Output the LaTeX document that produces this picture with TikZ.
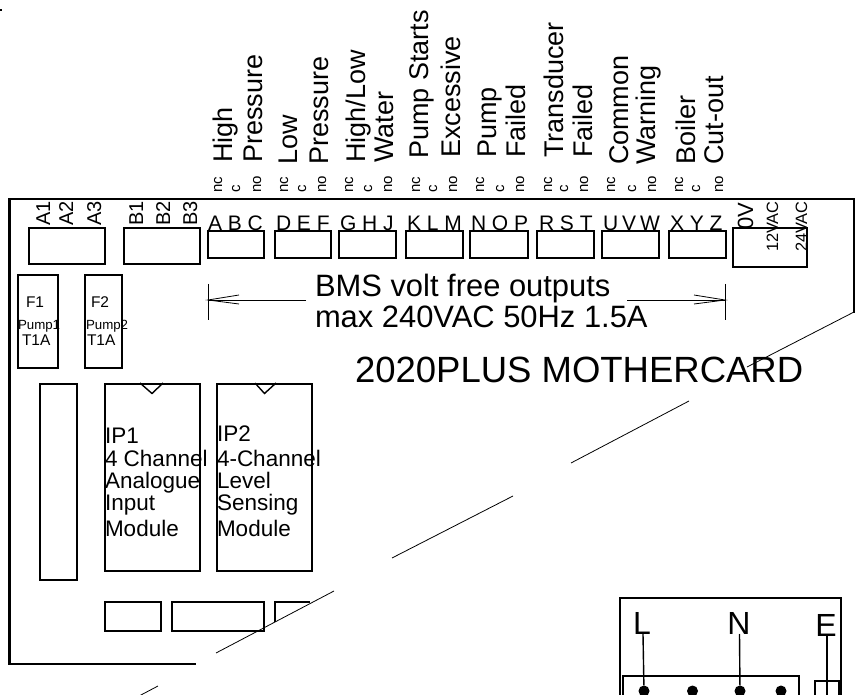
\documentclass[tikz,border=0pt]{standalone}
\usepackage{fontspec}
\setmainfont{Liberation Sans}
\newcommand{\fsz}[1]{\fontsize{#1}{#1}\selectfont}
\newcommand{\pcb}[5]{%
  \pgfmathsetmacro{\cxx}{(#2+#4)/2}\pgfmathsetmacro{\cyy}{(#3+#5)/2}%
  \pgfmathsetmacro{\www}{#4-#2}\pgfmathsetmacro{\hhh}{#5-#3}%
  \node[pcbbox,minimum width=\www pt,minimum height=\hhh pt] (#1) at (\cxx,\cyy) {};}
\tikzset{
  pcbbox/.style={draw=black,line width=2.2pt,rectangle,inner sep=0pt,outer sep=0pt},
  frameline/.style={line width=2.2pt,line cap=rect},
  cutline/.style={line width=0.8pt},
  dimline/.style={line width=0.8pt},
  thinbox/.style={line width=1.4pt},
  txt/.style={inner sep=0pt,outer sep=0pt,anchor=base west,text=black},
  vert/.style={txt,rotate=90},
  big/.style={txt,font=\fsz{36.5}},
  bms/.style={txt,font=\fsz{30.9}},
  lab/.style={vert,font=\fsz{27}},
  tiny/.style={vert,font=\fsz{15}},
  lett/.style={txt,font=\fsz{21}},
  pin/.style={vert,font=\fsz{20}},
  volt/.style={vert,font=\fsz{16.4}},
  mod/.style={txt,font=\fsz{22.5}},
  fuse/.style={txt,font=\fsz{15.5}},
  mains/.style={txt,font=\fsz{32},anchor=base},
  term/.style={circle,fill=black,inner sep=0pt,minimum size=11pt},
}
\begin{document}
\begin{tikzpicture}[x=1pt,y=-1pt]
\useasboundingbox (0,0) rectangle (855,695);
\clip (0,0) rectangle (855,695);
\fill[white] (0,0) rectangle (855,695);
% corner tick
\coordinate (tk1) at (0,10); \coordinate (tk2) at (1.5,10);
\draw[line width=1.5pt] (tk1) -- (tk2);
% frame
\coordinate (f1) at (195,664); \coordinate (f2) at (9.5,664); \coordinate (f3) at (9.5,199);
\coordinate (f4) at (854,199); \coordinate (f5) at (854,312);
\draw[frameline] (f1) -- (f2) -- (f3) -- (f4) -- (f5);
% break lines
\coordinate (c1) at (747,367); \draw[cutline] (f5) -- (c1);
\coordinate (c2) at (689,401); \coordinate (c3) at (571,463); \draw[cutline] (c2) -- (c3);
\coordinate (c4) at (513,496); \coordinate (c5) at (392,558); \draw[cutline] (c4) -- (c5);
\coordinate (c6) at (334,591); \coordinate (c7) at (216,653); \draw[cutline] (c6) -- (c7);
\coordinate (c8) at (158,686); \coordinate (c9) at (140,695.5); \draw[cutline] (c8) -- (c9);
% terminal blocks
\pcb{ba}{29}{228}{105}{264}
\pcb{bb}{124}{228}{200}{264}
\pcb{abc}{208}{231}{264}{258}
\pcb{def}{275}{231}{331}{258}
\pcb{ghj}{339}{231}{396}{258}
\pcb{klm}{406}{231}{463}{258}
\pcb{nop}{470}{231}{528}{258}
\pcb{rst}{537}{231}{594}{258}
\pcb{uvw}{602}{231}{659}{258}
\pcb{xyz}{669}{231}{726}{258}
\pcb{pwr}{733}{228}{807}{267}
% fuses
\pcb{fa}{18}{275}{58}{368}
\pcb{fb}{85}{275}{122}{368}
% modules
\pcb{slot}{40}{384}{77}{580}
\pcb{ipa}{105}{384}{200}{571}
\pcb{ipb}{217}{384}{312}{571}
\coordinate (na1) at (140,383); \coordinate (na2) at (152,393.5); \coordinate (na3) at (163,383);
\draw[thinbox] (na1) -- (na2) -- (na3);
\coordinate (nb1) at (255,383); \coordinate (nb2) at (264.5,393.5); \coordinate (nb3) at (276,383);
\draw[thinbox] (nb1) -- (nb2) -- (nb3);
% bottom connectors
\pcb{ca}{105}{602}{161}{631}
\pcb{cb}{172}{602}{264}{631}
\coordinate (cc1) at (275,622); \coordinate (cc2) at (275,602); \coordinate (cc3) at (310,602);
\draw[frameline,line cap=butt] (cc1) -- (cc2) -- (cc3);
% vertical labels
\node[lab] (t1) at (232,163) {High};
\node[lab] (t2) at (262,163) {Pressure};
\node[lab] (t3) at (297,165) {Low};
\node[lab] (t4) at (328,165) {Pressure};
\node[lab] (t5) at (365,163) {High/Low};
\node[lab] (t6) at (393,163) {Water};
\node[lab] (t7) at (428,159) {Pump Starts};
\node[lab] (t8) at (460,158) {Excessive};
\node[lab] (t9) at (496,158) {Pump};
\node[lab] (t10) at (525,158) {Failed};
\node[lab] (t11) at (563,158) {Transducer};
\node[lab] (t12) at (592,158) {Failed};
\node[lab] (t13) at (628,165) {Common};
\node[lab] (t14) at (655,165) {Warning};
\node[lab] (t15) at (695,165) {Boiler};
\node[lab] (t16) at (723,165) {Cut-out};
% nc c no
\foreach \nm/\xa/\xb/\xc in {a/222/240/261,b/288/306/326,c/353/372/392,d/420/437/457,e/484/504/524,f/552/568/588,g/615/636/656,h/683/700/723}{
  \node[tiny] (nc\nm) at (\xa,193) {nc};
  \node[tiny] (co\nm) at (\xb,193) {c};
  \node[tiny] (no\nm) at (\xc,193) {no};
}
% letters
\node[lett] (l1) at (208,231) {A B C};
\node[lett] (l2) at (276,231) {D E F};
\node[lett] (l3) at (340,231) {G H J};
\node[lett] (l4) at (407,231) {K L M};
\node[lett] (l5) at (471,231) {N O P};
\node[lett] (l6) at (539,231) {R S T};
\node[lett] (l7) at (603,231) {U\hspace{4pt}V\hspace{4pt}W};
\node[lett] (l8) at (670,231) {X Y Z};
% pins
\node[pin] (p1) at (50,226) {A1};
\node[pin] (p2) at (73,226) {A2};
\node[pin] (p3) at (101,226) {A3};
\node[pin] (p4) at (143,226) {B1};
\node[pin] (p5) at (170,226) {B2};
\node[pin] (p6) at (197,226) {B3};
\node[vert,font=\fsz{22}] (v0) at (753,230) {0V};
\node[volt] (v1) at (778,252) {12VAC};
\node[volt] (v2) at (807,252) {24VAC};
% BMS
\node[bms] (bms1) at (315,297) {BMS volt free outputs};
\node[bms] (bms2) at (315,328) {max 240VAC 50Hz 1.5A};
\coordinate (al) at (208,300); \coordinate (al0) at (306,300);
\coordinate (alt) at (208,284); \coordinate (alb) at (208,320);
\coordinate (ar) at (725,300); \coordinate (ar0) at (627,300);
\coordinate (art) at (725,284); \coordinate (arb) at (725,320);
\draw[dimline] (al0) -- (al);
\draw[dimline] (alt) -- (alb);
\draw[dimline] (239,295) -- (al) -- (239,304);
\draw[dimline] (ar0) -- (ar);
\draw[dimline] (art) -- (arb);
\draw[dimline] (694,295) -- (ar) -- (694,304);
% title
\node[big] (title) at (355,382) {2020PLUS MOTHERCARD};
% fuse text
\node[fuse] (ft1) at (26,308) {F1};
\node[fuse] (ft2) at (91,308) {F2};
\node[txt,font=\fsz{13.3}] (ft3) at (18,330) {Pump1};
\node[txt,font=\fsz{13.3}] (ft4) at (86,330) {Pump2};
\node[fuse] (ft5) at (22,345) {T1A};
\node[fuse] (ft6) at (87,345) {T1A};
% module text
\node[mod] at (105,443) {IP1};
\node[mod] at (105,466) {4 Channel};
\node[mod] at (105,488) {Analogue};
\node[mod] at (105,510) {Input};
\node[mod] at (105,536) {Module};
\node[mod] at (217,441) {IP2};
\node[mod] at (217,466) {4-Channel};
\node[mod] at (217,488) {Level};
\node[mod] at (217,510) {Sensing};
\node[mod] at (217,536) {Module};
% mains
\coordinate (m1) at (620,695.5); \coordinate (m2) at (620,598);
\coordinate (m3) at (841,598); \coordinate (m4) at (841,695.5);
\draw[frameline,line cap=butt] (m1) -- (m2) -- (m3) -- (m4);
\coordinate (i1) at (623,695.5); \coordinate (i2) at (623,676);
\coordinate (i3) at (799,676); \coordinate (i4) at (799,695.5);
\draw[thinbox] (i1) -- (i2) -- (i3) -- (i4);
\coordinate (e1) at (815,695.5); \coordinate (e2) at (815,681);
\coordinate (e3) at (839,681); \coordinate (e4) at (839,695.5);
\draw[thinbox] (e1) -- (e2) -- (e3) -- (e4);
\node[mains] (ml) at (642,634) {L};
\node[mains] (mn) at (739,634) {N};
\node[mains] (me) at (826,636) {E};
\node[term] (d1) at (644,691) {};
\node[term] (d2) at (692.5,691) {};
\node[term] (d3) at (740,691) {};
\node[term] (d4) at (781,691) {};
\coordinate (de) at (827,695.5);
\draw[thinbox] (643,634) -- (d1);
\draw[thinbox] (739.5,634) -- (d3);
\draw[thinbox] (827,636) -- (de);
\end{tikzpicture}
\end{document}
